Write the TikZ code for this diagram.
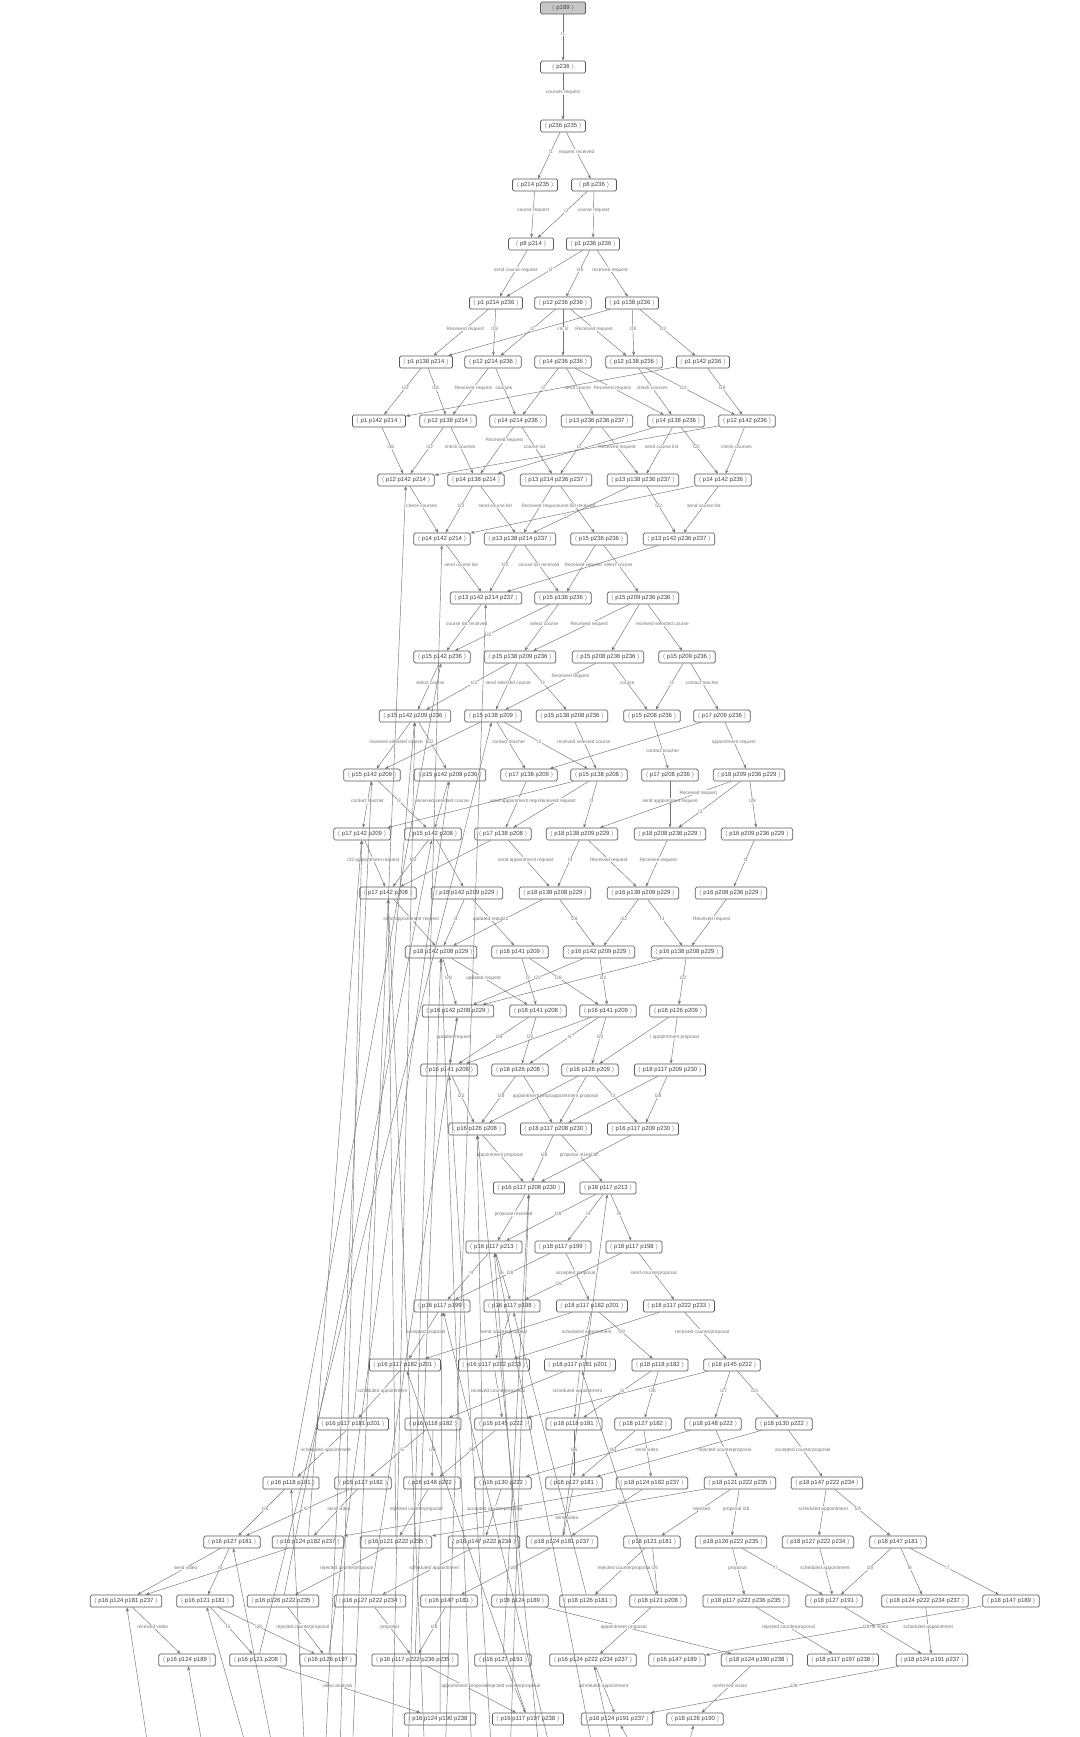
\documentclass[tikz,border=0pt]{standalone}
\usepackage{fontspec}
\setmainfont{Liberation Sans}
\usetikzlibrary{arrows.meta}
\tikzset{
  st/.style={draw=black!65,line width=.7pt,rounded corners=1.5pt,fill=white,text=black!75,
    font=\fontsize{6}{7}\selectfont,inner xsep=3.5pt,inner ysep=0pt,minimum width=45pt,minimum height=12pt},
  startst/.style={st,fill=black!22},
  tr/.style={draw=black!55,line width=.45pt,-{Stealth[length=4pt,width=3pt]}},
  lbl/.style={font=\fontsize{4.8}{5.5}\selectfont,text=black!55,fill=white,inner sep=.3pt,pos=.42},
}
\newcommand\staterow[2]{\foreach \n/\x/\t in {#2}{\node[st] (\n) at (\x,#1) {$\langle$ \t\ $\rangle$};}}
\begin{document}
\begin{tikzpicture}[x=1pt,y=-1pt]
  \useasboundingbox (0,0) rectangle (1079,1737);
  \clip (0,0) rectangle (1079,1737);
  % states, one row at a time
  \node[startst] (n0a) at (563,8) {$\langle$ p189 $\rangle$};
  \staterow{67}{n1a/563/p236}
  \staterow{126}{n2a/563/p236 p235}
  \staterow{185}{n3a/535/p214 p235, n3b/594/p8 p236}
  \staterow{244}{n4a/531/p8 p214, n4b/593/p1 p236 p236}
  \staterow{303}{n5a/496/p1 p214 p236, n5b/563/p12 p236 p236, n5c/632/p1 p138 p236}
  \staterow{362}{n6a/426/p1 p138 p214, n6b/493/p12 p214 p236, n6c/563/p14 p236 p236, n6d/634/p12 p138 p236, n6e/703/p1 p142 p236}
  \staterow{421}{n7a/379/p1 p142 p214, n7b/448/p12 p138 p214, n7c/518/p14 p214 p236, n7d/597/p13 p236 p236 p237, n7e/676/p14 p138 p236, n7f/747/p12 p142 p236}
  \staterow{480}{n8a/406/p12 p142 p214, n8b/476/p14 p138 p214, n8c/556/p13 p214 p236 p237, n8d/643/p13 p138 p236 p237, n8e/723/p14 p142 p236}
  \staterow{539}{n9a/442/p14 p142 p214, n9b/520/p13 p138 p214 p237, n9c/599/p15 p236 p236, n9d/679/p13 p142 p236 p237}
  \staterow{598}{n10a/486/p13 p142 p214 p237, n10b/563/p15 p138 p236, n10c/643/p15 p209 p236 p236}
  \staterow{657}{n11a/442/p15 p142 p236, n11b/520/p15 p138 p209 p236, n11c/608/p15 p208 p236 p236, n11d/687/p15 p209 p236}
  \staterow{716}{n12a/415/p15 p142 p209 p236, n12b/493/p15 p138 p209, n12c/572/p15 p138 p208 p236, n12d/652/p15 p208 p236, n12e/722/p17 p209 p236}
  \staterow{775}{n13a/372/p15 p142 p209, n13b/450/p15 p142 p208 p236, n13c/529/p17 p138 p209, n13d/599/p15 p138 p208, n13e/670/p17 p208 p236, n13f/749/p18 p209 p236 p229}
  \staterow{834}{n14a/362/p17 p142 p209, n14b/433/p15 p142 p208, n14c/503/p17 p138 p208, n14d/582/p18 p138 p209 p229, n14e/670/p18 p208 p236 p229, n14f/757/p16 p209 p236 p229}
  \staterow{893}{n15a/388/p17 p142 p208, n15b/467/p18 p142 p209 p229, n15c/555/p18 p138 p208 p229, n15d/643/p16 p138 p209 p229, n15e/731/p16 p208 p236 p229}
  \staterow{952}{n16a/441/p18 p142 p208 p229, n16b/520/p18 p141 p209, n16c/599/p16 p142 p209 p229, n16d/687/p16 p138 p208 p229}
  \staterow{1011}{n17a/458/p16 p142 p208 p229, n17b/538/p18 p141 p208, n17c/608/p16 p141 p209, n17d/678/p18 p126 p209}
  \staterow{1070}{n18a/449/p16 p141 p208, n18b/520/p18 p126 p208, n18c/590/p16 p126 p209, n18d/670/p18 p117 p209 p230}
  \staterow{1129}{n19a/477/p16 p126 p208, n19b/556/p18 p117 p208 p230, n19c/643/p16 p117 p209 p230}
  \staterow{1188}{n20a/529/p16 p117 p208 p230, n20b/608/p18 p117 p213}
  \staterow{1247}{n21a/494/p16 p117 p213, n21b/563/p18 p117 p199, n21c/634/p18 p117 p198}
  \staterow{1306}{n22a/442/p16 p117 p199, n22b/512/p16 p117 p198, n22c/592/p18 p117 p182 p201, n22d/679/p18 p117 p222 p233}
  \staterow{1365}{n23a/405/p16 p117 p182 p201, n23b/494/p16 p117 p222 p233, n23c/580/p18 p117 p181 p201, n23d/660/p18 p118 p182, n23e/732/p18 p145 p222}
  \staterow{1424}{n24a/353/p16 p117 p181 p201, n24b/433/p16 p118 p182, n24c/503/p16 p145 p222, n24d/574/p18 p118 p181, n24e/643/p18 p127 p182, n24f/713/p18 p148 p222, n24g/784/p18 p130 p222}
  \staterow{1483}{n25a/291/p16 p118 p181, n25b/363/p16 p127 p182, n25c/432/p16 p148 p222, n25d/503/p16 p130 p222, n25e/574/p18 p127 p181, n25f/652/p18 p124 p182 p237, n25g/740/p18 p121 p222 p235, n25h/827/p18 p147 p222 p234}
  \staterow{1542}{n26a/232/p16 p127 p181, n26b/308/p16 p124 p182 p237, n26c/396/p16 p121 p222 p235, n26d/484/p16 p147 p222 p234, n26e/562/p18 p124 p181 p237, n26f/652/p18 p121 p181, n26g/731/p18 p126 p222 p235, n26h/818/p18 p127 p222 p234, n26i/898/p18 p147 p181}
  \staterow{1601}{n27a/126/p16 p124 p181 p237, n27b/205/p16 p121 p181, n27c/283/p16 p126 p222 p235, n27d/370/p16 p127 p222 p234, n27e/449/p16 p147 p181, n27f/520/p18 p124 p189, n27g/588/p18 p126 p181, n27h/658/p18 p121 p208, n27i/746/p18 p117 p222 p236 p235, n27j/834/p18 p127 p191, n27k/925/p18 p124 p222 p234 p237, n27l/1011/p18 p147 p189}
  \staterow{1660}{n28a/187/p16 p124 p189, n28b/258/p16 p121 p208, n28c/328/p16 p126 p197, n28d/415/p16 p117 p222 p236 p235, n28e/503/p16 p127 p191, n28f/593/p16 p124 p222 p234 p237, n28g/677/p16 p147 p189, n28h/757/p18 p124 p190 p238, n28i/843/p18 p117 p197 p238, n28j/932/p18 p124 p191 p237}
  \staterow{1719}{n29a/440/p16 p124 p190 p238, n29b/528/p16 p117 p197 p238, n29c/617/p16 p124 p191 p237, n29d/695/p18 p126 p190}
  % labelled transitions
  \foreach \a/\b/\l in {n0a/n1a/I1, n1a/n2a/courses request, n2a/n3a/I1, n2a/n3b/request received,
      n3a/n4a/course request, n3b/n4a/I2, n3b/n4b/course request,
      n4a/n5a/send course request, n4b/n5a/I2, n4b/n5b/I18, n4b/n5c/received request,
      n5a/n6a/Received request, n5a/n6b/I18, n5b/n6b/I2, n5b/n6c/cls I2, n5b/n6d/Received request, n5c/n6d/I18, n5c/n6e/I22,
      n6a/n7a/I22, n6a/n7b/I18, n6b/n7b/Received request, n6b/n7c/courses, n6c/n7c/I2, n6c/n7d/send course,
      n6c/n7e/Received request, n6d/n7e/check courses, n6d/n7f/I22, n6e/n7f/I18,
      n7a/n8a/I18, n7b/n8a/I22, n7b/n8b/check courses, n7c/n8c/course list, n7d/n8c/I2,
      n7d/n8d/Received request, n7e/n8d/send course list, n7e/n8e/I22, n7f/n8e/check courses,
      n8a/n9a/check courses, n8b/n9a/I22, n8b/n9b/send course list, n8c/n9b/Received request, n8c/n9c/course list received,
      n8d/n9d/I22, n8e/n9d/send course list,
      n9a/n10a/send course list, n9b/n10a/I22, n9b/n10b/course list received, n9c/n10b/Received request, n9c/n10c/select course,
      n10a/n11a/course list received, n10b/n11b/select course, n10c/n11b/Received request, n10c/n11d/received selected course,
      n11a/n12a/select course, n11b/n12a/I22, n11b/n12b/send selected course, n11b/n12c/I3,
      n11c/n12d/course, n11d/n12d/I3, n11d/n12e/contact teacher,
      n12a/n13a/received selected course, n12a/n13b/I22, n12b/n13c/contact teacher, n12b/n13d/I3,
      n12c/n13d/received selected course, n12e/n13f/appointment request,
      n13a/n14a/contact teacher, n13a/n14b/I3, n13b/n14b/received selected course, n13c/n14c/send appointment request,
      n13d/n14c/Received request, n13d/n14d/I3, n13e/n14e/send appointment request, n13f/n14f/I28,
      n14a/n15a/I23 appointment request, n14b/n15a/I22, n14c/n15c/send appointment request, n14d/n15c/I3,
      n14d/n15d/Received request, n14e/n15d/Received request, n14f/n15e/I3,
      n15a/n16a/send appointment request, n15b/n16a/I3, n15b/n16b/updated request, n15c/n16a/I22, n15c/n16c/I28,
      n15d/n16c/I22, n15d/n16d/I3, n15e/n16d/Received request,
      n16a/n17a/I28, n16a/n17b/updated request, n16b/n17b/I3, n16b/n17c/I28, n16c/n17a/I22, n16c/n17c/I22, n16d/n17d/I22,
      n17a/n18a/updated request, n17b/n18a/I28, n17b/n18b/I22, n17c/n18b/I3, n17c/n18c/I22, n17d/n18d/I appointment proposal,
      n18a/n19a/I22, n18b/n19a/I28, n18b/n19b/appointment proposal, n18c/n19b/appointment proposal, n18c/n19c/I3, n18d/n19c/I28,
      n19a/n20a/appointment proposal, n19b/n20a/I28, n19b/n20b/proposal received, n19c/n20a/I3,
      n20a/n21a/proposal received, n20b/n21a/I28, n20b/n21b/I4, n20b/n21c/I6,
      n21a/n22a/I4, n21a/n22b/I6, n21b/n22a/I28, n21b/n22c/accepted proposal, n21c/n22d/send counterproposal,
      n22a/n23a/accepted proposal, n22b/n23b/send counterproposal, n22c/n23c/scheduled appointment, n22c/n23d/I28,
      n22d/n23e/received counterproposal,
      n23a/n24a/scheduled appointment, n23b/n24c/received counterproposal, n23c/n24d/scheduled appointment, n23d/n24d/I5,
      n23d/n24e/I28, n23e/n24f/I27, n23e/n24g/I24,
      n24a/n25a/scheduled appointment, n24b/n25b/I5, n24b/n25c/I26, n24c/n25c/I24, n24d/n25e/I26, n24e/n25e/I30,
      n24e/n25f/send video, n24f/n25g/rejected counterproposal, n24g/n25h/accepted counterproposal,
      n25a/n26a/I26, n25b/n26a/I5, n25b/n26b/send video, n25c/n26c/rejected counterproposal, n25d/n26d/accepted counterproposal,
      n25g/n26f/rejected, n25g/n26g/proposal I28, n25h/n26h/scheduled appointment, n25h/n26i/I25,
      n26a/n27a/send video, n26a/n27b/I5, n26c/n27c/rejected counterproposal, n26d/n27d/scheduled appointment, n26e/n27e/I28,
      n26f/n27g/rejected counterproposal, n26f/n27h/I26, n26g/n27i/proposal, n26g/n27j/I7, n26h/n27j/scheduled appointment,
      n26i/n27j/I25, n26i/n27k/I8, n26i/n27l/I7,
      n27a/n28a/received video, n27b/n28b/I5, n27b/n28c/I28, n27c/n28c/rejected counterproposal, n27d/n28d/proposal, n27e/n28d/I28,
      n27h/n28f/video analysis, n27f/n28h/appointment proposal, n27i/n28i/rejected counterproposal, n27j/n28j/send video,
      n27k/n28j/scheduled appointment, n27l/n28g/I28,
      n28b/n29a/video analysis, n28d/n29b/appointment proposal, n28e/n29b/rejected counterproposal,
      n28f/n29c/scheduled appointment, n28h/n29d/confirmed vision, n28j/n29c/I28}
    {\draw[tr] (\a) -- node[lbl] {\l} (\b);}
  \draw[tr] (n7c) -- node[lbl,pos=.28] {Received request} (n8b);
  \draw[tr] (n8d) -- node[lbl,pos=.65] {I2} (n9b);
  \draw[tr] (n10b) -- node[lbl,pos=.65] {I22} (n11a);
  \draw[tr] (n11c) -- node[lbl,pos=.28] {Received request} (n12b);
  \draw[tr] (n12d) -- node[lbl,pos=.62] {contact teacher} (n13e);
  \draw[tr] (n13f) -- node[lbl,pos=.25] {Received request} (n14d);
  \draw[tr] (n13f) -- node[lbl,pos=.65] {I3} (n14e);
  \draw[tr] (n21c) -- node[lbl,pos=.65] {I28} (n22b);
  \draw[tr] (n25e) -- node[lbl,pos=.62] {send video} (n26e);
  \draw[tr] (n25f) -- node[lbl,pos=.3] {I28} (n26e);
  % unlabelled and long transitions
  \foreach \a/\b in {n5c/n6a, n6e/n7a, n7f/n8a, n7e/n8b, n8e/n9a, n9d/n10a, n10c/n11c, n12b/n13a, n12e/n13c,
      n13d/n14a, n14c/n15a, n14b/n15b, n16d/n17a, n17c/n18a, n17d/n18c, n18c/n19a, n18d/n19b, n22c/n23a, n22d/n23b,
      n23c/n24b, n23e/n24c, n24f/n25d, n24g/n25e, n25f/n26b, n25g/n26c, n26b/n27a,
      n26b/n14a, n27c/n14b, n28c/n13b, n26c/n15a, n27d/n17a, n28d/n16a, n26d/n19a, n28e/n20a, n27f/n21a,
      n29a/n22a, n29b/n23a, n26e/n20b, n27g/n22b, n28b/n12b, n27h/n23c, n25a/n11a, n24a/n12a}
    {\draw[tr] (\a) -- (\b);}
  % transitions from states below the page
  \foreach \i/\x/\b in {1/150/n27a, 2/205/n28a, 3/250/n27b, 4/275/n26a, 5/305/n25a, 6/325/n13a, 7/340/n14a,
      8/352/n8a, 9/392/n12a, 10/408/n9a, 11/425/n15a, 12/445/n10a, 13/472/n16a, 14/492/n18a, 15/510/n20a,
      16/540/n19a, 17/553/n22a, 18/595/n21a, 19/615/n28f, 20/640/n29c, 21/685/n29d}
    {\coordinate (o\i) at (\x,1760); \draw[tr] (o\i) -- (\b);}
\end{tikzpicture}
\end{document}
